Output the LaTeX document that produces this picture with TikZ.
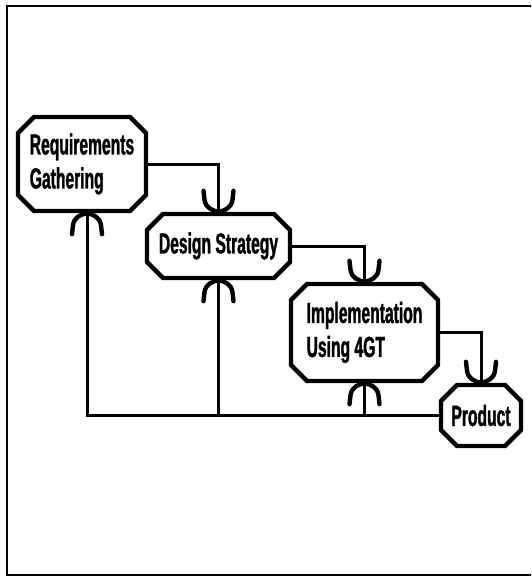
\documentclass[tikz,border=0pt]{standalone}
\usepackage{fontspec}
\setmainfont[FakeStretch=0.54, FakeBold=1.2]{Liberation Sans}
\usetikzlibrary{shapes.misc}

\tikzset{
  stage/.style={chamfered rectangle, draw, line width=4.4pt,
    chamfered rectangle xsep=8pt, chamfered rectangle ysep=8pt,
    inner sep=0pt, minimum width=#1, font=\bfseries\fontsize{29}{34}\selectfont,
    align=left},
  link/.style={line width=3pt},
  frameline/.style={line width=2.2pt},
  % fork-shaped arrowhead, tip at the origin, prongs pointing up
  fork/.pic={
    \draw[line width=4.4pt, line cap=round, line join=round]
      (-15pt,21pt) -- (-14pt,12pt)
      .. controls (-13pt,4pt) and (-6pt,1pt) .. (0pt,0pt)
      .. controls (6pt,1pt) and (13pt,4pt) .. (14pt,12pt)
      -- (15pt,21pt);
  }
}

\begin{document}
\begin{tikzpicture}[x=1pt,y=-1pt]
  \useasboundingbox (0,0) rectangle (531,576);

  % outer frame, open on the right
  \draw[frameline] (531,6) -- (7,6) -- (7,575) -- (531,575);

  % process stages
  \node[stage=128pt, minimum height=94pt] (req) at (82,164)
    {Requirements\\Gathering};
  \node[stage=143pt, minimum height=64pt] (des) at (218.5,246)
    {Design Strategy};
  \node[stage=147pt, minimum height=97pt] (imp) at (364.5,332.5)
    {Implementation\\Using 4GT};
  \node[stage=80pt, minimum height=61pt] (prod) at (481,415.5)
    {Product};

  % forward flow
  \draw[link] (req.east) -| (des.north);
  \draw[link] (des.east) -| (imp.north);
  \draw[link] (imp.east) -| (prod.north);
  \pic at (des.north) {fork};
  \pic at (imp.north) {fork};
  \pic at (prod.north) {fork};

  % feedback from the product to every earlier stage
  \coordinate (back) at (87,0);
  \coordinate (reqin) at (back |- req.south);
  \draw[link] (prod.west) -| (reqin);
  \draw[link] (des.south |- prod.west) -- (des.south);
  \draw[link] (imp.south |- prod.west) -- (imp.south);
  \pic[rotate=180] at (reqin) {fork};
  \pic[rotate=180] at (des.south) {fork};
  \pic[rotate=180] at (imp.south) {fork};
\end{tikzpicture}
\end{document}
